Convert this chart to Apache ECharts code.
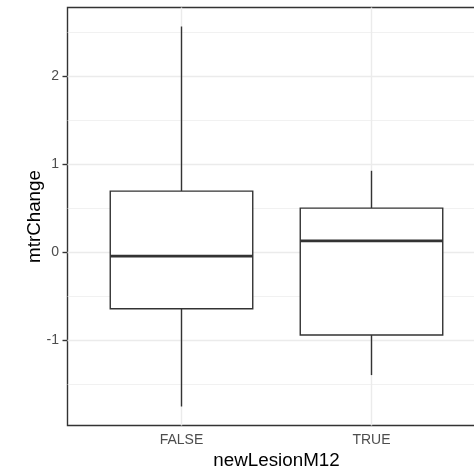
<!DOCTYPE html>
<html><head><meta charset="utf-8">
<script src="https://cdn.jsdelivr.net/npm/echarts@6/dist/echarts.min.js"></script>
<style>html,body{margin:0;padding:0;background:#fff}#c{width:474px;height:470px}</style>
</head><body><div id="c"></div>
<script>
const categories = ['FALSE', 'TRUE'];
const lowerWhisker = [-1.755, -1.398];
const q1 = [-0.644, -0.943];
const median = [-0.045, 0.128];
const q3 = [0.693, 0.500];
const upperWhisker = [2.564, 0.924];
const yTicks = [-1, 0, 1, 2];
const yMinor = [-1.5, -0.5, 0.5, 1.5, 2.5];

const FONT = '"Liberation Sans", Arial, sans-serif';
const LW = 1.4;
const rows = categories.map((c, i) => [i + 1, lowerWhisker[i], q1[i], median[i], q3[i], upperWhisker[i]]);

const gridLines = [];
yTicks.forEach(v => gridLines.push({yAxis: v, lineStyle: {color: '#EBEBEB', width: LW, type: 'solid'}}));
yMinor.forEach(v => gridLines.push({yAxis: v, lineStyle: {color: '#EBEBEB', width: 0.7, type: 'solid'}}));
categories.forEach((c, i) => gridLines.push({xAxis: i + 1, lineStyle: {color: '#EBEBEB', width: LW, type: 'solid'}}));

const chart = echarts.init(document.getElementById('c'), null, {renderer: 'canvas'});
chart.setOption({
  animation: false,
  backgroundColor: '#fff',
  grid: {left: 67.5, top: 7.5, width: 418, height: 418, outerBoundsMode: 'none', containLabel: false,
    show: true, borderColor: '#333333', borderWidth: LW, backgroundColor: '#fff'},
  xAxis: {
    type: 'value', min: 0.4, max: 2.6,
    axisLine: {show: false},
    splitLine: {show: false},
    axisTick: {show: true, length: 5, lineStyle: {color: '#333333', width: LW}, customValues: categories.map((c, i) => i + 1)},
    axisLabel: {color: '#4D4D4D', fontSize: 14, fontFamily: FONT, margin: 8,
      customValues: categories.map((c, i) => i + 1),
      formatter: v => categories[Math.round(v) - 1] || ''},
    name: 'newLesionM12', nameLocation: 'middle', nameGap: 26, nameMoveOverlap: false,
    nameTextStyle: {color: '#000', fontSize: 18.8, fontFamily: FONT}
  },
  yAxis: {
    type: 'value', min: -1.971, max: 2.780,
    axisLine: {show: false},
    splitLine: {show: false},
    axisTick: {show: true, length: 5, lineStyle: {color: '#333333', width: LW}, customValues: yTicks},
    axisLabel: {color: '#4D4D4D', fontSize: 14, fontFamily: FONT, margin: 8.5, customValues: yTicks},
    name: 'mtrChange', nameLocation: 'middle', nameGap: 23, nameRotate: 90, nameMoveOverlap: false,
    nameTextStyle: {color: '#000', fontSize: 18.8, fontFamily: FONT}
  },
  series: [
    {
      type: 'line', data: [], z: 1, silent: true,
      markLine: {z: 1, silent: true, symbol: 'none', label: {show: false}, animation: false, data: gridLines}
    },
    {
      type: 'custom', z: 10, silent: true,
      data: rows,
      renderItem: function (params, api) {
        const x = api.value(0);
        const lw = api.coord([x, api.value(1)]);
        const pq1 = api.coord([x, api.value(2)]);
        const pm = api.coord([x, api.value(3)]);
        const pq3 = api.coord([x, api.value(4)]);
        const uw = api.coord([x, api.value(5)]);
        const half = api.size([0.75, 0])[0] / 2;
        const cx = pm[0];
        const st = {stroke: '#333333', lineWidth: LW, fill: null};
        return {
          type: 'group',
          children: [
            {type: 'line', shape: {x1: cx, y1: pq3[1], x2: cx, y2: uw[1]}, style: st},
            {type: 'line', shape: {x1: cx, y1: pq1[1], x2: cx, y2: lw[1]}, style: st},
            {type: 'rect', shape: {x: cx - half, y: pq3[1], width: half * 2, height: pq1[1] - pq3[1]},
              style: {stroke: '#333333', lineWidth: LW, fill: '#ffffff'}},
            {type: 'line', shape: {x1: cx - half, y1: pm[1], x2: cx + half, y2: pm[1]},
              style: {stroke: '#333333', lineWidth: 2.8}}
          ]
        };
      }
    }
  ]
});
</script></body></html>
